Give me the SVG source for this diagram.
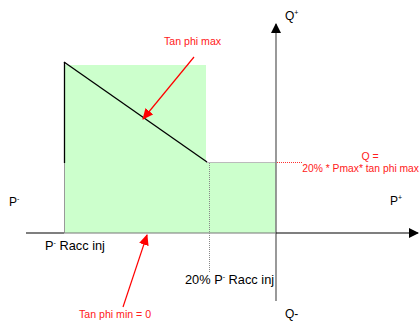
<svg xmlns="http://www.w3.org/2000/svg" width="420" height="327" viewBox="0 0 420 327">
<defs>
<style>
.t{font-family:"Liberation Sans",Arial,sans-serif;fill:#000}
.r{font-family:"Liberation Sans",Arial,sans-serif;fill:#ff2020}
.sup{font-size:7px}
</style>
<marker id="ab" markerWidth="10" markerHeight="10" refX="9" refY="5" orient="auto" markerUnits="userSpaceOnUse"><path d="M0,0 L10,5 L0,10 z" fill="#000"/></marker>
<marker id="ar" markerWidth="11" markerHeight="10" refX="10" refY="5" orient="auto" markerUnits="userSpaceOnUse"><path d="M0,0 L11,5 L0,10 z" fill="#ff0000"/></marker>
</defs>
<rect width="420" height="327" fill="#fff"/>
<g id="region">
<path d="M64,65 H206 V162 H276 V233 H64 Z" fill="#ccffcc"/>
<path d="M206,162.5 H276" stroke="#bbbbbb" stroke-width="1"/>
<path d="M64.5,163 V233" stroke="#999" stroke-width="1"/>
</g>
<g id="connectors">
<path d="M64.5,62 V163" stroke="#000" stroke-width="1.3"/>
<path d="M64,62 L207,162" stroke="#000" stroke-width="1.3"/>
<path d="M276,301 V24" stroke="#808080" stroke-width="1.6" marker-end="url(#ab)"/>
<path d="M26,233 H64" stroke="#000" stroke-width="1.2"/>
<path d="M64,233 H276" stroke="#777" stroke-width="1"/>
<path d="M276,233 H418" stroke="#000" stroke-width="1.2" marker-end="url(#ab)"/>
<path d="M209.5,163 V272" stroke="#888" stroke-width="1" stroke-dasharray="1,1"/>
<path d="M277,162.5 H302" stroke="#ff3030" stroke-width="1" stroke-dasharray="1,1"/>
<path d="M194,57 L143,119" stroke="#ff0000" stroke-width="1.2" marker-end="url(#ar)"/>
<path d="M123,307 L147,235" stroke="#ff0000" stroke-width="1.2" marker-end="url(#ar)"/>
</g>
<g id="labels">
<text class="r" x="164" y="45" font-size="10.6">Tan phi max</text>
<text class="t" x="285" y="20" font-size="12">Q<tspan class="sup" dy="-5">+</tspan></text>
<text class="r" x="370" y="160" font-size="10.5" text-anchor="middle">Q =</text>
<text class="r" x="419" y="172" font-size="10.3" text-anchor="end">20% * Pmax* tan phi max</text>
<text class="t" x="9" y="206" font-size="12">P<tspan class="sup" dy="-5">-</tspan></text>
<text class="t" x="390" y="205" font-size="12">P<tspan class="sup" dy="-5">+</tspan></text>
<text class="t" x="45" y="250" font-size="12.8">P<tspan class="sup" dy="-5">-</tspan><tspan dy="5"> Racc inj</tspan></text>
<text class="t" x="185" y="284" font-size="12.8">20% P<tspan class="sup" dy="-5">-</tspan><tspan dy="5"> Racc inj</tspan></text>
<text class="t" x="285" y="318" font-size="12">Q-</text>
<text class="r" x="79" y="318" font-size="10.6">Tan phi min = 0</text>
</g>
</svg>
